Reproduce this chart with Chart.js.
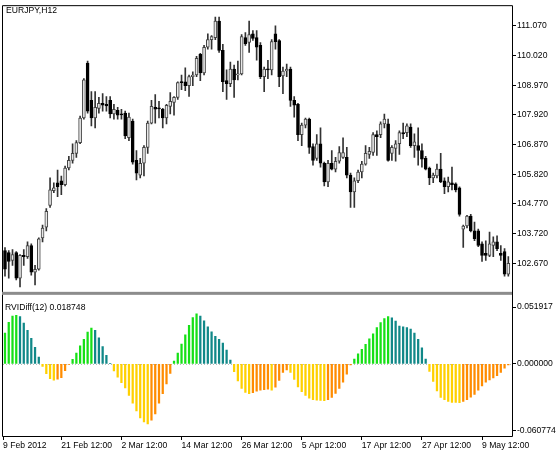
<!DOCTYPE html>
<html>
<head>
<meta charset="utf-8">
<script src="https://cdn.jsdelivr.net/npm/chart.js@4.4.1/dist/chart.umd.min.js"></script>
<style>
  html, body { margin: 0; padding: 0; background: #fff; }
  #wrap { position: relative; width: 560px; height: 454px; overflow: hidden; }
  canvas { position: absolute; left: 0; }
  #price { top: 0; }
  #osc { top: 297px; }
</style>
</head>
<body>
<div id="wrap">
  <canvas id="price" width="560" height="297"></canvas>
  <canvas id="osc" width="560" height="157"></canvas>
</div>
<script>
// EURJPY H12 candles, 135 bars
const open = [
  103.12, 103.05, 102.77, 103.05, 102.15, 102.95, 102.91, 103.30, 102.36, 102.46,
  103.57, 103.95, 104.72, 105.24, 105.52, 105.59, 105.45, 106.04, 106.31, 106.56,
  106.94, 107.81, 109.75, 108.43, 107.81, 108.15, 108.33, 108.29, 108.43, 107.95,
  108.08, 107.95, 107.98, 107.11, 107.70, 106.31, 105.79, 106.21, 106.77, 107.63,
  108.19, 108.15, 108.12, 107.81, 108.22, 108.36, 108.54, 109.09, 109.09, 108.95,
  109.27, 109.33, 110.06, 109.40, 110.31, 110.58, 110.65, 111.24, 110.20, 109.13,
  109.02, 109.54, 109.33, 109.37, 110.65, 110.48, 110.79, 110.65, 110.38, 109.27,
  109.54, 109.51, 110.79, 110.55, 109.30, 109.47, 109.54, 108.43, 108.29, 107.22,
  107.56, 107.77, 106.80, 106.38, 106.90, 106.21, 105.55, 106.21, 106.00, 106.28,
  106.42, 106.42, 105.79, 105.20, 105.59, 105.90, 106.18, 106.52, 106.59, 107.22,
  107.22, 107.60, 107.60, 106.56, 106.73, 106.90, 107.29, 107.29, 107.49, 106.83,
  106.83, 106.66, 106.38, 106.04, 105.69, 105.76, 106.00, 105.59, 105.38, 105.52,
  105.48, 105.34, 103.88, 103.99, 104.34, 103.82, 103.82, 103.36, 103.02, 102.95,
  103.30, 103.43, 103.02, 103.09, 102.29
];
const high = [
  103.23, 103.12, 103.16, 103.09, 102.98, 103.16, 103.43, 103.36, 102.60, 103.57,
  104.02, 104.61, 105.69, 105.52, 105.97, 105.76, 106.11, 106.45, 106.90, 107.01,
  107.88, 109.20, 109.82, 108.74, 108.74, 108.54, 108.67, 108.57, 108.57, 108.29,
  108.19, 108.12, 108.05, 107.98, 107.77, 106.66, 106.38, 106.83, 107.70, 108.43,
  108.64, 108.40, 108.15, 108.29, 108.71, 108.57, 109.09, 109.33, 109.58, 109.33,
  109.44, 109.99, 110.10, 110.38, 110.79, 110.72, 111.38, 111.38, 110.41, 109.51,
  109.79, 109.68, 109.82, 110.76, 110.83, 111.24, 110.90, 110.90, 110.48, 109.61,
  109.85, 110.58, 111.07, 110.58, 109.61, 109.72, 109.61, 108.57, 108.33, 107.63,
  107.81, 107.81, 106.90, 107.22, 107.46, 106.25, 106.31, 106.66, 106.42, 106.80,
  107.11, 106.77, 105.86, 105.69, 105.97, 106.28, 106.83, 106.77, 107.29, 107.36,
  107.67, 107.95, 107.77, 106.83, 107.01, 107.36, 107.63, 107.60, 107.60, 107.25,
  107.46, 106.90, 106.45, 106.07, 105.86, 106.18, 106.56, 105.69, 105.72, 106.07,
  105.52, 105.38, 104.02, 104.37, 104.40, 104.13, 103.88, 103.43, 103.47, 103.78,
  103.61, 103.64, 103.30, 103.19, 102.91
];
const low = [
  102.22, 102.15, 102.60, 102.08, 101.84, 102.60, 102.84, 102.25, 101.91, 102.43,
  103.43, 103.82, 104.65, 105.17, 105.03, 105.10, 105.41, 105.97, 106.21, 106.42,
  106.90, 107.77, 107.98, 107.53, 107.46, 107.98, 108.05, 108.05, 107.81, 107.77,
  107.77, 107.77, 107.08, 107.01, 106.18, 105.62, 105.69, 105.76, 106.56, 107.60,
  107.63, 107.81, 107.46, 107.60, 107.95, 107.91, 108.47, 108.81, 108.78, 108.57,
  108.95, 109.27, 109.13, 109.33, 110.24, 110.24, 110.58, 110.13, 108.74, 108.47,
  108.92, 108.54, 109.16, 109.33, 110.38, 110.13, 110.55, 109.85, 109.20, 108.74,
  109.20, 109.33, 110.24, 108.92, 108.67, 109.27, 108.22, 107.84, 107.01, 106.83,
  107.46, 106.56, 106.14, 106.31, 106.07, 105.41, 105.38, 105.97, 105.90, 106.21,
  106.38, 105.69, 104.65, 104.65, 105.52, 105.69, 106.14, 106.38, 106.49, 106.49,
  107.11, 107.46, 106.28, 106.31, 106.28, 106.52, 107.08, 107.15, 106.77, 106.42,
  106.14, 106.07, 105.97, 105.45, 105.52, 105.69, 105.52, 105.13, 105.20, 105.27,
  105.20, 104.34, 103.23, 103.92, 103.78, 103.47, 103.26, 102.74, 102.77, 102.91,
  102.91, 103.12, 102.77, 102.22, 102.22
];
const close = [
  102.46, 102.74, 102.98, 102.15, 102.95, 102.91, 103.30, 102.36, 102.46, 103.54,
  103.92, 104.51, 105.27, 105.34, 105.38, 105.45, 106.04, 106.31, 106.56, 106.94,
  107.81, 109.16, 108.05, 107.81, 108.19, 108.33, 108.26, 108.24, 107.95, 108.12,
  107.91, 107.92, 107.18, 107.84, 106.25, 105.86, 106.21, 106.77, 107.63, 108.22,
  108.12, 108.13, 107.81, 108.26, 108.40, 108.54, 109.06, 109.06, 108.95, 109.27,
  109.33, 109.92, 109.40, 110.31, 110.58, 110.69, 111.24, 110.20, 109.09, 109.02,
  109.54, 109.16, 109.37, 110.69, 110.44, 110.76, 110.62, 110.31, 109.27, 109.54,
  109.51, 110.51, 110.51, 109.27, 109.47, 109.54, 108.43, 108.26, 107.22, 107.56,
  107.77, 106.77, 106.31, 106.90, 106.21, 105.55, 106.21, 106.00, 106.28, 106.59,
  106.59, 105.79, 105.20, 105.59, 105.90, 106.18, 106.56, 106.63, 107.22, 107.15,
  107.60, 107.77, 106.31, 106.77, 106.90, 107.29, 107.25, 107.53, 106.83, 106.97,
  106.66, 106.35, 106.00, 105.69, 105.79, 106.00, 105.55, 105.38, 105.55, 105.45,
  105.27, 104.40, 103.99, 104.34, 103.82, 103.54, 103.30, 102.95, 102.95, 103.36,
  103.43, 103.19, 102.95, 102.29, 102.67
];

// RVIDiff(12) histogram, one value per bar
const rvi = [
   0.0282,  0.0379,  0.0437,  0.0443,  0.0431,  0.0372,  0.0305,  0.0232,  0.0150,  0.0062,
  -0.0024, -0.0091, -0.0135, -0.0150, -0.0141, -0.0126, -0.0062, -0.0006,  0.0041,  0.0099,
   0.0165,  0.0223,  0.0290,  0.0326,  0.0305,  0.0238,  0.0158,  0.0077,  0.0004, -0.0066,
  -0.0123, -0.0172, -0.0220, -0.0290, -0.0361, -0.0431, -0.0496, -0.0531, -0.0550, -0.0515,
  -0.0458, -0.0361, -0.0273, -0.0185, -0.0088,  0.0026,  0.0097,  0.0180,  0.0264,  0.0352,
   0.0423,  0.0458,  0.0436,  0.0394,  0.0337,  0.0293,  0.0251,  0.0223,  0.0189,  0.0125,
   0.0033, -0.0072, -0.0156, -0.0224, -0.0261, -0.0273, -0.0264, -0.0250, -0.0240, -0.0236,
  -0.0233, -0.0242, -0.0214, -0.0152, -0.0079, -0.0055, -0.0079, -0.0143, -0.0211, -0.0255,
  -0.0290, -0.0314, -0.0328, -0.0332, -0.0335, -0.0336, -0.0328, -0.0308, -0.0270, -0.0226,
  -0.0167, -0.0094, -0.0011,  0.0044,  0.0091,  0.0132,  0.0179,  0.0229,  0.0273,  0.0332,
   0.0376,  0.0414,  0.0431,  0.0420,  0.0390,  0.0346,  0.0337,  0.0332,  0.0317,  0.0282,
   0.0223,  0.0147,  0.0044, -0.0070, -0.0161, -0.0249, -0.0308, -0.0328, -0.0343, -0.0352,
  -0.0354, -0.0355, -0.0343, -0.0328, -0.0305, -0.0279, -0.0240, -0.0202, -0.0167, -0.0147,
  -0.0129, -0.0108, -0.0079, -0.0041, -0.0011
];

const priceTicks = [102.67, 103.72, 104.77, 105.82, 106.87, 107.92, 108.97, 110.02, 111.07];
const rviTicks = [-0.060774, 0, 0.051917];
const dateTickPos = [-0.5, 15, 31, 47, 63, 79, 95, 111, 127];
const dateTickText = ['9 Feb 2012', '21 Feb 12:00', '2 Mar 12:00', '14 Mar 12:00', '26 Mar 12:00',
  '5 Apr 12:00', '17 Apr 12:00', '27 Apr 12:00', '9 May 12:00'];

const FONT = '"Liberation Sans", Arial, sans-serif';
const FSIZE = 8.6;
Chart.defaults.font.family = FONT;
Chart.defaults.font.size = FSIZE;
Chart.defaults.color = '#000';

const xMin = -0.53, xMax = 134.98;

function rviColor(i) {
  const v = rvi[i];
  const prev = i > 0 ? rvi[i - 1] : -Infinity;
  if (v >= 0) return v >= prev ? '#16e016' : '#108888';
  return v < prev ? '#ffd000' : '#ff8c00';
}

const fixWidth = s => { s.width = 48; };

const priceFrame = {
  id: 'priceFrame',
  afterDraw(chart) {
    const { ctx, chartArea: a } = chart;
    ctx.save();
    ctx.strokeStyle = '#000';
    ctx.lineWidth = 1;
    ctx.beginPath();
    ctx.moveTo(a.left - 0.5, chart.height);
    ctx.lineTo(a.left - 0.5, a.top - 0.5);
    ctx.lineTo(a.right + 0.5, a.top - 0.5);
    ctx.lineTo(a.right + 0.5, chart.height);
    ctx.stroke();
    ctx.fillStyle = '#8c8c8c';
    ctx.fillRect(a.left - 1, a.bottom + 1, a.right - a.left + 1, 3);
    ctx.fillStyle = '#000';
    ctx.font = `${FSIZE}px ${FONT}`;
    ctx.textBaseline = 'alphabetic';
    ctx.fillText('EURJPY,H12', 6, 12.5);
    ctx.restore();
  }
};

const oscFrame = {
  id: 'oscFrame',
  beforeDatasetsDraw(chart) {
    const { ctx, chartArea: a } = chart;
    const y0 = Math.round(chart.scales.y.getPixelForValue(0)) + 0.5;
    ctx.save();
    ctx.strokeStyle = '#b8b8b8';
    ctx.setLineDash([1, 2]);
    ctx.beginPath();
    ctx.moveTo(a.left, y0);
    ctx.lineTo(a.right, y0);
    ctx.stroke();
    ctx.restore();
  },
  afterDraw(chart) {
    const { ctx, chartArea: a } = chart;
    ctx.save();
    ctx.strokeStyle = '#000';
    ctx.lineWidth = 1;
    ctx.beginPath();
    ctx.moveTo(a.left - 0.5, 0);
    ctx.lineTo(a.left - 0.5, a.bottom + 0.5);
    ctx.lineTo(a.right + 0.5, a.bottom + 0.5);
    ctx.lineTo(a.right + 0.5, 0);
    ctx.stroke();
    ctx.fillStyle = '#000';
    ctx.font = `${FSIZE}px ${FONT}`;
    ctx.fillText('RVIDiff(12) 0.018748', 5, 12.5);
    ctx.restore();
  }
};

new Chart(document.getElementById('price'), {
  type: 'bar',
  data: {
    datasets: [
      {
        data: low.map((l, i) => ({ x: i, y: [l, high[i]] })),
        backgroundColor: '#333',
        barThickness: 1,
        grouped: false,
        order: 2,
      },
      {
        data: open.map((o, i) => ({ x: i, y: [Math.min(o, close[i]), Math.max(o, close[i])] })),
        backgroundColor: c => close[c.dataIndex] >= open[c.dataIndex] ? '#e8e8e8' : '#000',
        borderColor: c => close[c.dataIndex] >= open[c.dataIndex] ? '#444' : '#000',
        borderWidth: 1,
        borderSkipped: false,
        barThickness: 3,
        minBarLength: 1,
        grouped: false,
        order: 1,
      },
    ],
  },
  options: {
    responsive: false,
    animation: false,
    layout: { padding: { left: 3, top: 3, right: 0, bottom: 4 } },
    plugins: { legend: { display: false }, tooltip: { enabled: false } },
    scales: {
      x: { type: 'linear', min: xMin, max: xMax, offset: false, display: false },
      y: {
        position: 'right',
        min: 101.698,
        max: 111.764,
        afterFit: fixWidth,
        afterBuildTicks: s => { s.ticks = priceTicks.map(v => ({ value: v })); },
        grid: { drawOnChartArea: false, tickLength: 4, color: '#000' },
        border: { display: false },
        ticks: { padding: 1, callback: v => v.toFixed(3) },
      },
    },
  },
  plugins: [priceFrame],
});

new Chart(document.getElementById('osc'), {
  type: 'bar',
  data: {
    datasets: [{
      data: rvi.map((v, i) => ({ x: i, y: v })),
      backgroundColor: c => rviColor(c.dataIndex),
      barThickness: 1.6,
    }],
  },
  options: {
    responsive: false,
    animation: false,
    layout: { padding: { left: 3, top: 1, right: 0, bottom: 0 } },
    plugins: { legend: { display: false }, tooltip: { enabled: false } },
    scales: {
      x: {
        type: 'linear',
        min: xMin,
        max: xMax,
        offset: false,
        afterFit: s => { s.height = 18; },
        afterBuildTicks: s => { s.ticks = dateTickPos.map(v => ({ value: v })); },
        grid: { drawOnChartArea: false, offset: false, tickLength: 4, color: '#000' },
        border: { display: false },
        ticks: {
          align: 'start',
          autoSkip: false,
          maxRotation: 0,
          minRotation: 0,
          padding: 0,
          callback: (v, i) => dateTickText[i],
        },
      },
      y: {
        position: 'right',
        min: -0.06602,
        max: 0.05546,
        afterFit: fixWidth,
        afterBuildTicks: s => { s.ticks = rviTicks.map(v => ({ value: v })); },
        grid: { drawOnChartArea: false, tickLength: 4, color: '#000' },
        border: { display: false },
        ticks: { padding: 1, callback: v => v.toFixed(6) },
      },
    },
  },
  plugins: [oscFrame],
});
</script>
</body>
</html>
